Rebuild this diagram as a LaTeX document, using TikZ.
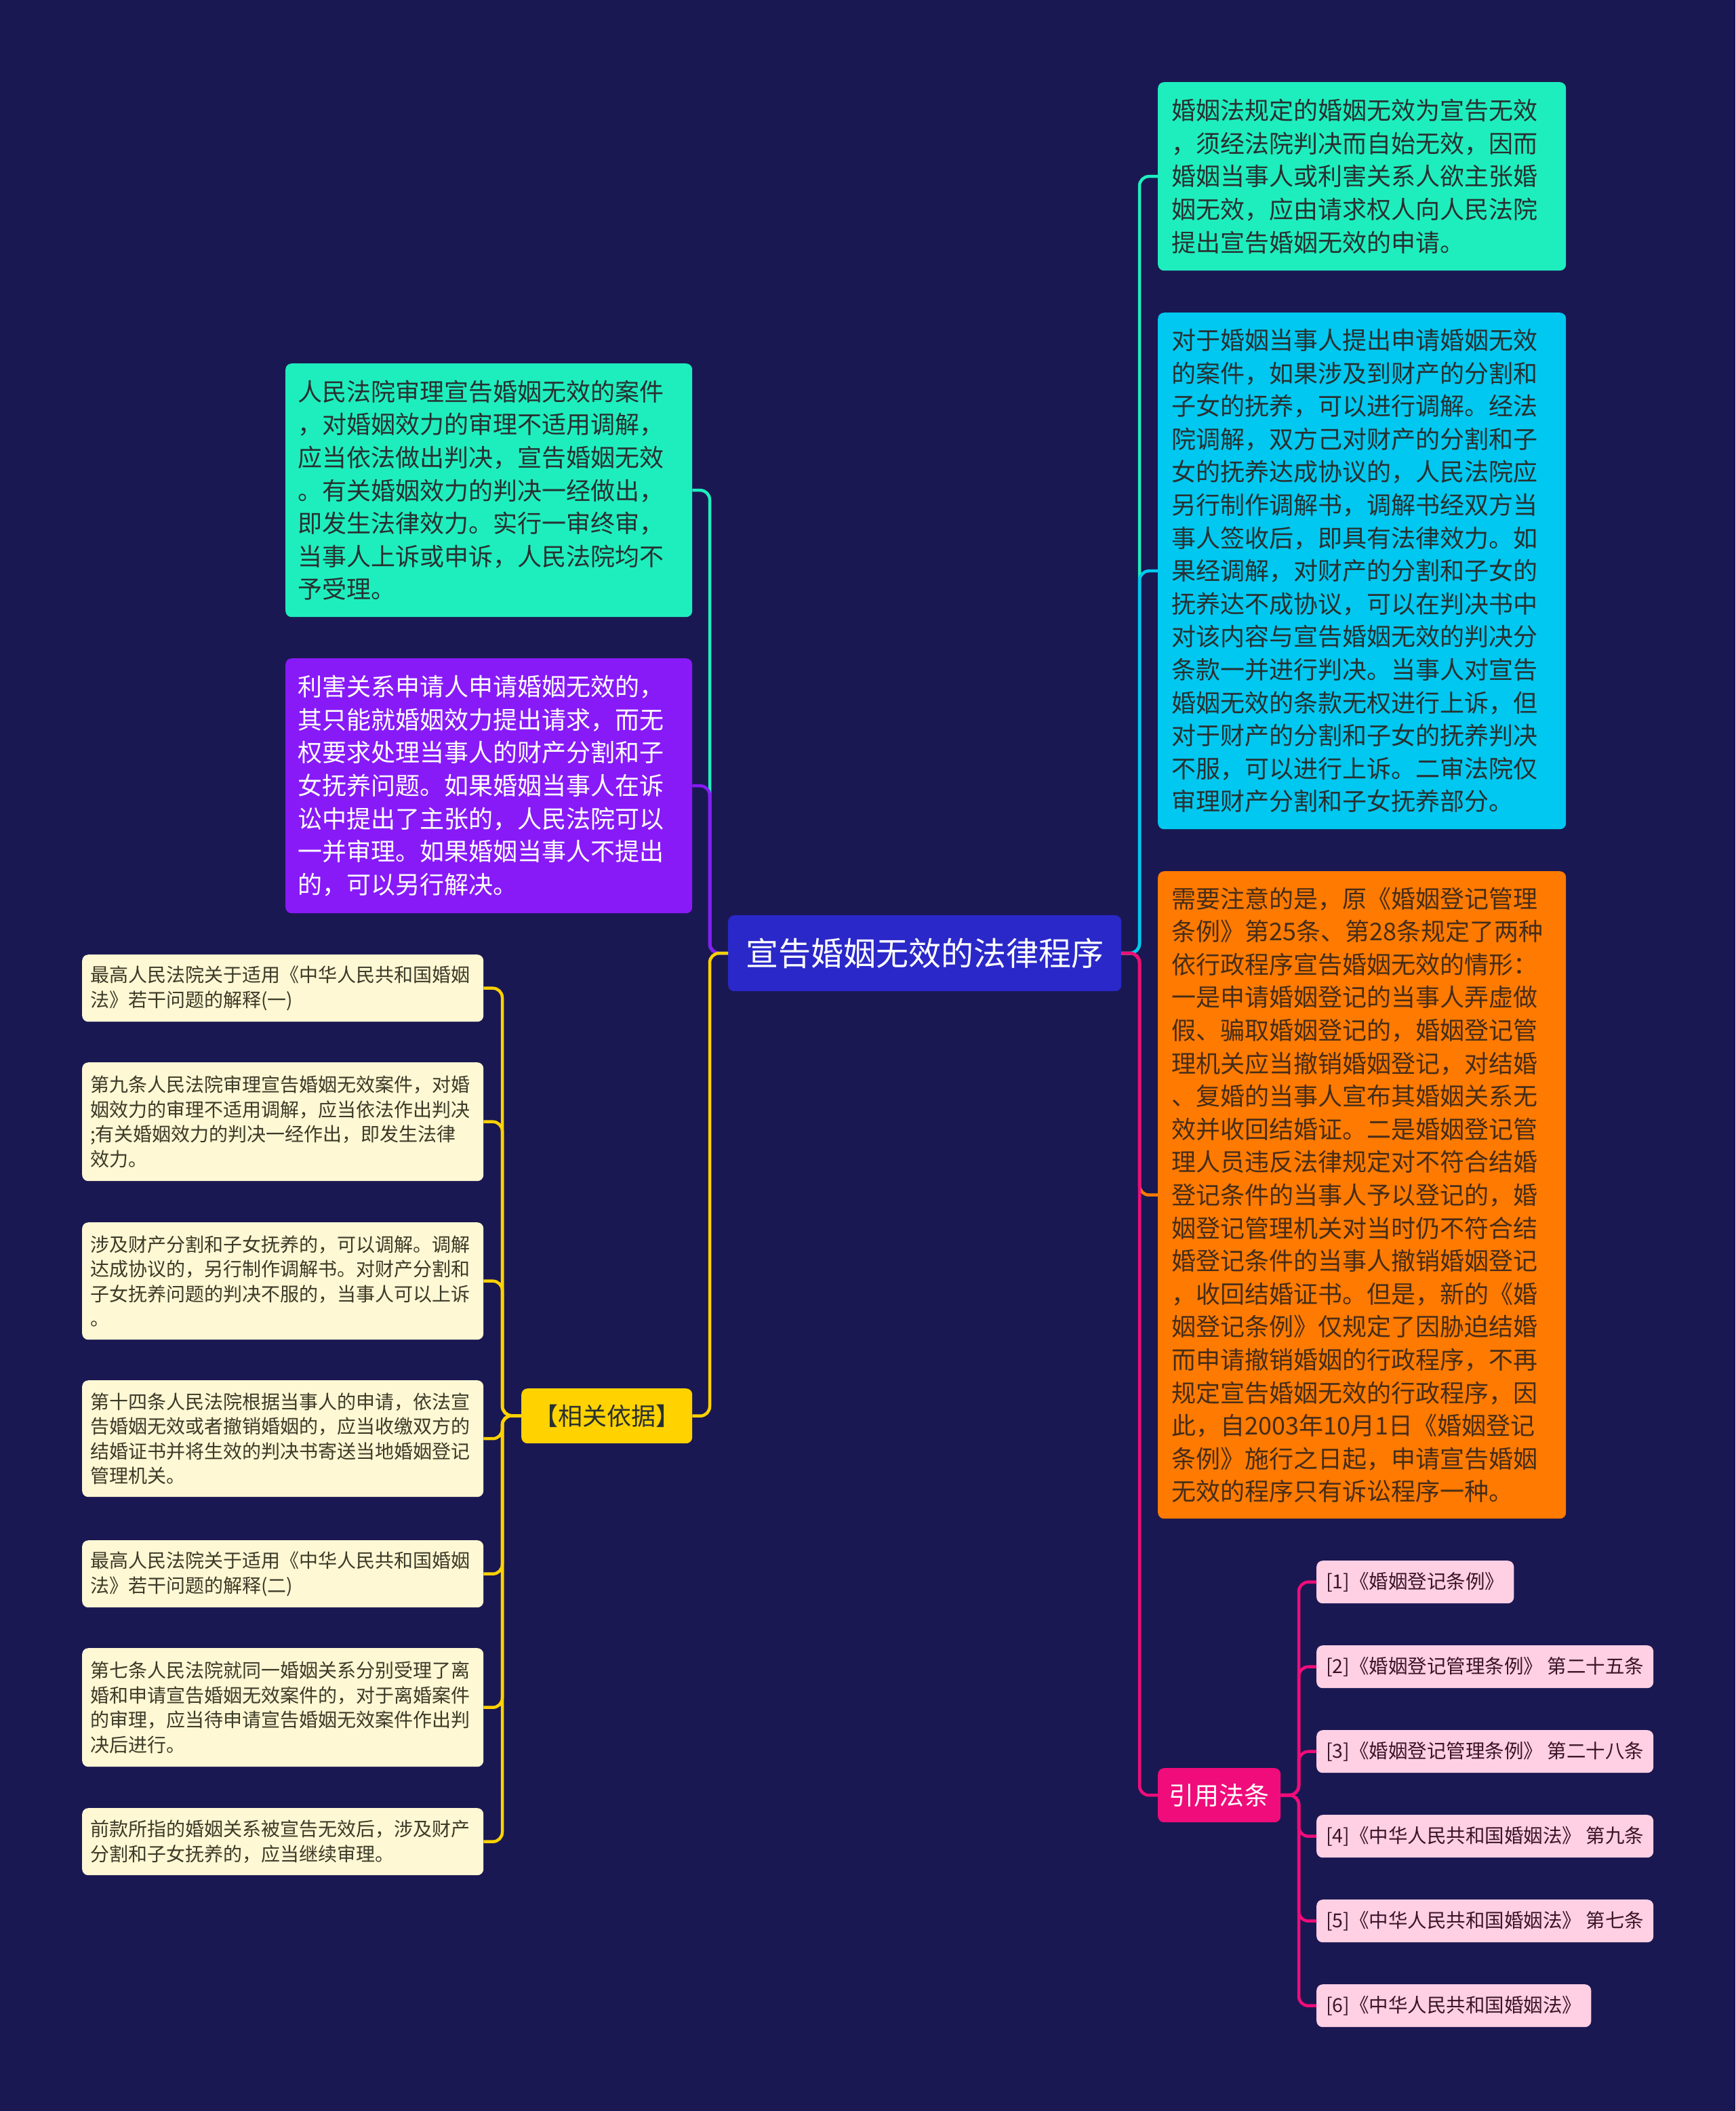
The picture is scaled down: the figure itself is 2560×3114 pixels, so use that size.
\documentclass[tikz,border=0pt]{standalone}
\usepackage{fontspec}
\setmainfont{Noto Sans CJK SC}
\definecolor{bgc}{RGB}{26,24,82}
\definecolor{rootc}{RGB}{42,40,200}
\definecolor{tealc}{RGB}{30,238,190}
\definecolor{cyanc}{RGB}{0,200,240}
\definecolor{orangec}{RGB}{255,122,0}
\definecolor{purplec}{RGB}{136,26,248}
\definecolor{yellowc}{RGB}{255,210,0}
\definecolor{creamc}{RGB}{255,248,212}
\definecolor{pinkc}{RGB}{240,12,122}
\definecolor{lpinkc}{RGB}{255,208,228}
\definecolor{darktxt}{RGB}{40,48,48}
\definecolor{browntxt}{RGB}{70,45,25}
\definecolor{creamtxt}{RGB}{60,58,40}
\definecolor{reftxt}{RGB}{60,20,40}
\tikzset{
  anybox/.style={rounded corners=9pt, anchor=north west, align=left, inner ysep=0pt},
  bigbox/.style={anybox, inner xsep=20pt, text width=562pt, font=\fontsize{36pt}{48.6pt}\selectfont},
  leftbox/.style={anybox, inner xsep=18pt, text width=564pt, font=\fontsize{36pt}{48.6pt}\selectfont},
  smallbox/.style={anybox, fill=creamc, text=creamtxt, inner xsep=12pt, text width=568pt, font=\fontsize{28pt}{36.5pt}\selectfont},
  refbox/.style={anybox, fill=lpinkc, text=reftxt, inner xsep=14pt, minimum height=63pt, font=\fontsize{28.5pt}{36pt}\selectfont},
  link/.style={line width=4.5pt, rounded corners=14pt},
}
\begin{document}
\begin{tikzpicture}[x=1pt,y=-1pt]
\fill[bgc] (0,0) rectangle (2560,3114);
\useasboundingbox (0,0) rectangle (2560,3114);

% root
\node[anybox, fill=rootc, text=white, align=center, minimum width=580pt, minimum height=112pt,
  font=\fontsize{48pt}{56pt}\selectfont] (root) at (1074,1350) {宣告婚姻无效的法律程序};

% right side
\node[bigbox, fill=tealc, text=darktxt, minimum height=278pt] (r1) at (1708,121) {婚姻法规定的婚姻无效为宣告无效\\，须经法院判决而自始无效，因而\\婚姻当事人或利害关系人欲主张婚\\姻无效，应由请求权人向人民法院\\提出宣告婚姻无效的申请。};
\node[bigbox, fill=cyanc, text=darktxt, minimum height=762pt] (r2) at (1708,461) {对于婚姻当事人提出申请婚姻无效\\的案件，如果涉及到财产的分割和\\子女的抚养，可以进行调解。经法\\院调解，双方己对财产的分割和子\\女的抚养达成协议的，人民法院应\\另行制作调解书，调解书经双方当\\事人签收后，即具有法律效力。如\\果经调解，对财产的分割和子女的\\抚养达不成协议，可以在判决书中\\对该内容与宣告婚姻无效的判决分\\条款一并进行判决。当事人对宣告\\婚姻无效的条款无权进行上诉，但\\对于财产的分割和子女的抚养判决\\不服，可以进行上诉。二审法院仅\\审理财产分割和子女抚养部分。};
\node[bigbox, fill=orangec, text=browntxt, minimum height=955pt] (r3) at (1708,1285) {需要注意的是，原《婚姻登记管理\\条例》第25条、第28条规定了两种\\依行政程序宣告婚姻无效的情形：\\一是申请婚姻登记的当事人弄虚做\\假、骗取婚姻登记的，婚姻登记管\\理机关应当撤销婚姻登记，对结婚\\、复婚的当事人宣布其婚姻关系无\\效并收回结婚证。二是婚姻登记管\\理人员违反法律规定对不符合结婚\\登记条件的当事人予以登记的，婚\\姻登记管理机关对当时仍不符合结\\婚登记条件的当事人撤销婚姻登记\\，收回结婚证书。但是，新的《婚\\姻登记条例》仅规定了因胁迫结婚\\而申请撤销婚姻的行政程序，不再\\规定宣告婚姻无效的行政程序，因\\此，自2003年10月1日《婚姻登记\\条例》施行之日起，申请宣告婚姻\\无效的程序只有诉讼程序一种。};
\node[anybox, fill=pinkc, text=white, align=center, minimum width=181pt, minimum height=80pt,
  font=\fontsize{37pt}{44pt}\selectfont] (cite) at (1708,2608) {引用法条};

\node[refbox] (f1) at (1942,2302) {[1]《婚姻登记条例》};
\node[refbox] (f2) at (1942,2427) {[2]《婚姻登记管理条例》 第二十五条};
\node[refbox] (f3) at (1942,2552) {[3]《婚姻登记管理条例》 第二十八条};
\node[refbox] (f4) at (1942,2677) {[4]《中华人民共和国婚姻法》 第九条};
\node[refbox] (f5) at (1942,2802) {[5]《中华人民共和国婚姻法》 第七条};
\node[refbox] (f6) at (1942,2927) {[6]《中华人民共和国婚姻法》};

% left side
\node[leftbox, fill=tealc, text=darktxt, minimum height=374pt] (l1) at (421,536) {人民法院审理宣告婚姻无效的案件\\，对婚姻效力的审理不适用调解，\\应当依法做出判决，宣告婚姻无效\\。有关婚姻效力的判决一经做出，\\即发生法律效力。实行一审终审，\\当事人上诉或申诉，人民法院均不\\予受理。};
\node[leftbox, fill=purplec, text=white, minimum height=376pt] (l2) at (421,971) {利害关系申请人申请婚姻无效的，\\其只能就婚姻效力提出请求，而无\\权要求处理当事人的财产分割和子\\女抚养问题。如果婚姻当事人在诉\\讼中提出了主张的，人民法院可以\\一并审理。如果婚姻当事人不提出\\的，可以另行解决。};
\node[anybox, fill=yellowc, text=darktxt, align=center, minimum width=252pt, minimum height=81pt,
  font=\fontsize{36pt}{42pt}\selectfont] (basis) at (769,2048) {【相关依据】};

\node[smallbox, minimum height=99pt] (y1) at (121,1408) {最高人民法院关于适用《中华人民共和国婚姻\\法》若干问题的解释(一)};
\node[smallbox, minimum height=175pt] (y2) at (121,1567) {第九条人民法院审理宣告婚姻无效案件，对婚\\姻效力的审理不适用调解，应当依法作出判决\\;有关婚姻效力的判决一经作出，即发生法律\\效力。};
\node[smallbox, minimum height=173pt] (y3) at (121,1803) {涉及财产分割和子女抚养的，可以调解。调解\\达成协议的，另行制作调解书。对财产分割和\\子女抚养问题的判决不服的，当事人可以上诉\\。};
\node[smallbox, minimum height=172pt] (y4) at (121,2036) {第十四条人民法院根据当事人的申请，依法宣\\告婚姻无效或者撤销婚姻的，应当收缴双方的\\结婚证书并将生效的判决书寄送当地婚姻登记\\管理机关。};
\node[smallbox, minimum height=99pt] (y5) at (121,2272) {最高人民法院关于适用《中华人民共和国婚姻\\法》若干问题的解释(二)};
\node[smallbox, minimum height=175pt] (y6) at (121,2431) {第七条人民法院就同一婚姻关系分别受理了离\\婚和申请宣告婚姻无效案件的，对于离婚案件\\的审理，应当待申请宣告婚姻无效案件作出判\\决后进行。};
\node[smallbox, minimum height=99pt] (y7) at (121,2667) {前款所指的婚姻关系被宣告无效后，涉及财产\\分割和子女抚养的，应当继续审理。};

% connectors: root -> right
\coordinate (rt) at (1681,1406);
\draw[link, tealc] (root.east) -- (rt) |- (r1.west);
\draw[link, cyanc] (root.east) -- (rt) |- (r2.west);
\draw[link, orangec] (root.east) -- (rt) |- (r3.west);
\draw[link, pinkc] (root.east) -- (rt) |- (cite.west);

% root -> left
\coordinate (lt) at (1047,1406);
\draw[link, tealc] (root.west) -- (lt) |- (l1.east);
\draw[link, purplec] (root.west) -- (lt) |- (l2.east);
\draw[link, yellowc] (root.west) -- (lt) |- (basis.east);

% cite -> refs
\coordinate (ct) at (1916,2648);
\foreach \f in {f1,f2,f3,f4,f5,f6}{
  \draw[link, pinkc] (cite.east) -- (ct) |- (\f.west);
}

% basis -> yellow boxes
\coordinate (bt) at (741,2088);
\foreach \y in {y1,y2,y3,y4,y5,y6,y7}{
  \draw[link, yellowc] (basis.west) -- (bt) |- (\y.east);
}
\end{tikzpicture}
\end{document}
